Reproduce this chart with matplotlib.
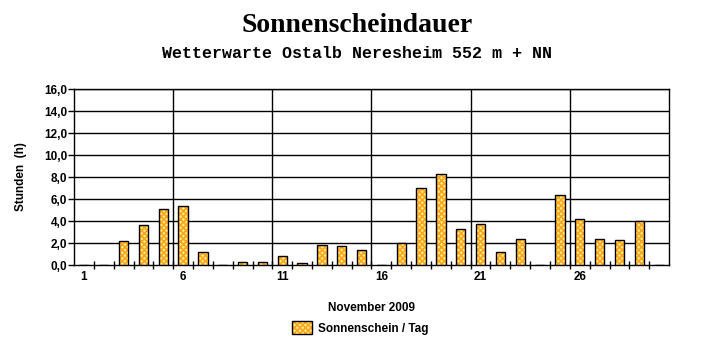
import matplotlib.pyplot as plt
import numpy as np
from matplotlib.patches import Patch

days = np.arange(1, 31)
sun_hours = [0, 0, 2.2, 3.6, 5.1, 5.4, 1.2, 0, 0.3, 0.3,
             0.8, 0.2, 1.8, 1.7, 1.4, 0, 2.0, 7.0, 8.3, 3.3,
             3.7, 1.2, 2.4, 0, 6.4, 4.2, 2.4, 2.3, 4.0, 0]
label_days = [1, 6, 11, 16, 21, 26]
y_ticks = np.arange(0, 17, 2)

plt.rcParams['font.family'] = ['Liberation Sans', 'DejaVu Sans']
plt.rcParams['hatch.linewidth'] = 1.2

fig = plt.figure(figsize=(7.15, 3.52), dpi=100)
ax = fig.add_axes([74 / 715, 87 / 352, 595 / 715, 176 / 352])

# hatched fill (orange/yellow checker look), then black outline on top
ax.bar(days, sun_hours, width=0.47, color='#FFEE88', edgecolor='#FFA620',
       hatch='xxxxxx', linewidth=0, zorder=3)
ax.bar(days, sun_hours, width=0.47, fill=False, edgecolor='black',
       linewidth=1, zorder=4)

ax.set_xlim(0.5, 30.5)
ax.set_ylim(0, 16)
ax.set_yticks(y_ticks)
ax.set_yticklabels([f'{v:.1f}'.replace('.', ',') for v in y_ticks],
                   fontsize=8.5, fontweight='bold')
ax.set_xticks(label_days)
ax.set_xticklabels([str(d) for d in label_days], fontsize=8.5, fontweight='bold')
ax.tick_params(axis='x', which='major', length=0, pad=4)
ax.set_xticks(np.arange(1.5, 30, 1), minor=True)
ax.tick_params(axis='x', which='minor', direction='inout', length=6, width=1)
ax.tick_params(axis='y', length=4, width=1, pad=1)

for y in y_ticks[1:]:
    ax.axhline(y, color='black', linewidth=1, zorder=1)
for x in [5.5, 10.5, 15.5, 20.5, 25.5]:
    ax.axvline(x, color='black', linewidth=1, zorder=1)
for s in ax.spines.values():
    s.set_linewidth(1)

ax.set_xlabel('November 2009', fontsize=8.5, fontweight='bold', labelpad=14)
ax.set_ylabel('Stunden  (h)', fontsize=8.5, fontweight='bold', labelpad=12)

fig.text(0.5, 1 - 25 / 352, 'Sonnenscheindauer', ha='center', va='center',
         fontsize=20, fontweight='bold', family='Liberation Serif')
fig.text(0.5, 1 - 54 / 352, 'Wetterwarte Ostalb Neresheim 552 m + NN',
         ha='center', va='center', fontsize=12, fontweight='bold',
         family='Liberation Mono')

fill_h = Patch(facecolor='#FFEE88', edgecolor='#FFA620', hatch='xxxxxx', linewidth=0)
edge_h = Patch(fill=False, edgecolor='black', linewidth=1)
fig.legend([(fill_h, edge_h)], ['Sonnenschein / Tag'], loc='center',
           bbox_to_anchor=(360 / 715, 1 - 328 / 352), frameon=False,
           prop={'size': 8.5, 'weight': 'bold'}, handlelength=1.7,
           handleheight=1.2, handletextpad=0.5)

fig.savefig('out.png', dpi=100)
